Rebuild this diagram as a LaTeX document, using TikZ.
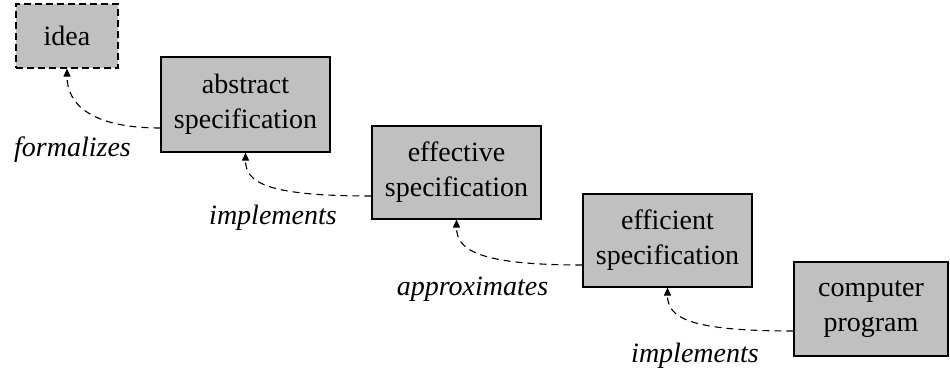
\documentclass[tikz,border=0pt]{standalone}
\usepackage{fontspec}
\setmainfont{Liberation Serif}
\usetikzlibrary{arrows.meta}
\definecolor{boxgray}{HTML}{C0C0C0}
\begin{document}
\begin{tikzpicture}[x=1pt,y=-1pt,
  stage/.style={draw=black, line width=1.2pt, fill=boxgray, align=center, inner sep=0pt,
    font=\fontsize{28}{35}\selectfont},
  flow/.style={dash pattern=on 7pt off 5pt, line width=1.1pt,
    -{Triangle[length=8pt,width=7pt]}},
  lbl/.style={font=\fontsize{28}{35}\selectfont\itshape, anchor=base, inner sep=0pt}]
\useasboundingbox (0,0) rectangle (950,374);
\node[stage, dash pattern=on 7pt off 4pt, minimum width=102pt, minimum height=64pt] (idea) at (67,36) {idea};
\node[stage, minimum width=169pt, minimum height=95pt] (abs) at (245.5,104.5) {abstract\\specification};
\node[stage, minimum width=169pt, minimum height=93pt] (eff) at (456.5,172.5) {effective\\specification};
\node[stage, minimum width=169pt, minimum height=93pt] (effic) at (667.5,240.5) {efficient\\specification};
\node[stage, minimum width=154pt, minimum height=94pt] (comp) at (871,309) {computer\\program};
\draw[flow] ([yshift=-23.5pt]abs.west) .. controls +(-70,0) and +(0,35) .. (idea.south);
\draw[flow] ([yshift=-23.5pt]eff.west) .. controls +(-105,0) and +(0,30) .. (abs.south);
\draw[flow] ([yshift=-24.5pt]effic.west) .. controls +(-105,0) and +(0,30) .. (eff.south);
\draw[flow] ([yshift=-22pt]comp.west) .. controls +(-105,0) and +(0,30) .. (effic.south);
\node[lbl] (l1) at (72.5,157) {formalizes};
\node[lbl] (l2) at (273,225) {implements};
\node[lbl] (l3) at (472.5,295) {approximates};
\node[lbl] (l4) at (695,362) {implements};
\end{tikzpicture}
\end{document}
